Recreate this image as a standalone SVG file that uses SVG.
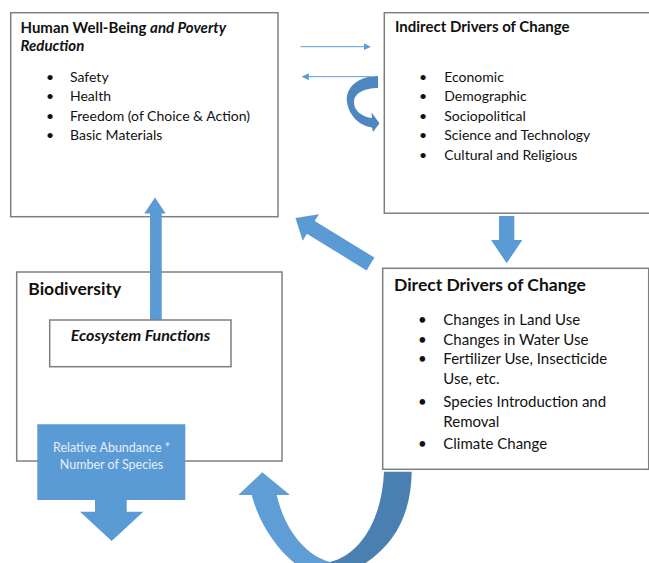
<svg xmlns="http://www.w3.org/2000/svg" width="649" height="563" viewBox="0 0 649 563">
  <style>
    .box { fill: #ffffff; stroke: #7f7f7f; stroke-width: 1.5; }
    .t { font-family: Lato, "Noto Sans", "Liberation Sans", sans-serif; fill: #111111; }
    .item { font-size: 14px; }
    .item2 { font-size: 15px; }
    .title { font-size: 15px; font-weight: bold; }
    .big { font-size: 17.5px; font-weight: bold; }
    .bi { font-weight: bold; font-style: italic; }
    .arrow { fill: #5b9bd5; }
    .thin { stroke: #5b9bd5; stroke-width: 1; fill: none; }
    .light { fill: #e6eef8; font-size: 12.5px; }
  </style>
  <defs>
    <marker id="thinHead" viewBox="0 0 10 10" refX="9" refY="5" markerWidth="7" markerHeight="7" orient="auto-start-reverse" markerUnits="userSpaceOnUse">
      <path d="M0,0 L10,5 L0,10 Z" fill="#5b9bd5"/>
    </marker>
  </defs>
  <rect width="649" height="563" fill="#ffffff"/>

  <!-- Human well-being -->
  <g id="wellbeing">
    <rect class="box" x="10.7" y="12.7" width="267.3" height="204"/>
    <text class="t title" x="20.5" y="33">Human Well-Being <tspan font-style="italic">and Poverty</tspan></text>
    <text class="t title bi" x="20.5" y="51">Reduction</text>
    <g class="t item">
      <text x="46" y="82">•</text><text x="70" y="82">Safety</text>
      <text x="46" y="101">•</text><text x="70" y="101">Health</text>
      <text x="46" y="120.5">•</text><text x="70" y="120.5">Freedom (of Choice &amp; Action)</text>
      <text x="46" y="140">•</text><text x="70" y="140">Basic Materials</text>
    </g>
  </g>

  <!-- Indirect drivers -->
  <g id="indirect">
    <rect class="box" x="384.3" y="12.7" width="266" height="200.5"/>
    <text class="t title" x="395" y="31.7">Indirect Drivers of Change</text>
    <g class="t item">
      <text x="419" y="82">•</text><text x="444.3" y="82">Economic</text>
      <text x="419" y="101">•</text><text x="444.3" y="101">Demographic</text>
      <text x="419" y="120.5">•</text><text x="444.3" y="120.5">Sociopolitical</text>
      <text x="419" y="140">•</text><text x="444.3" y="140">Science and Technology</text>
      <text x="419" y="159.5">•</text><text x="444.3" y="159.5">Cultural and Religious</text>
    </g>
  </g>

  <!-- Biodiversity -->
  <g id="biodiversity">
    <rect class="box" x="16.7" y="272" width="265.3" height="189"/>
    <text class="t big" x="28.3" y="295">Biodiversity</text>
  </g>

  <!-- Direct drivers -->
  <g id="direct">
    <rect class="box" x="382.7" y="268.3" width="266" height="201"/>
    <text class="t big" x="394" y="291">Direct Drivers of Change</text>
    <g class="t item2">
      <text x="418" y="325">•</text><text x="443.3" y="325">Changes in Land Use</text>
      <text x="418" y="345">•</text><text x="443.3" y="345">Changes in Water Use</text>
      <text x="418" y="364">•</text><text x="443.3" y="364">Fertilizer Use, Insecticide</text>
      <text x="443.3" y="384">Use, etc.</text>
      <text x="418" y="407">•</text><text x="443.3" y="407">Species Introduction and</text>
      <text x="443.3" y="427">Removal</text>
      <text x="418" y="448.5">•</text><text x="443.3" y="448.5">Climate Change</text>
    </g>
  </g>

  <!-- Connectors -->
  <g id="connectors">
    <!-- thin exchange arrows between the top boxes -->
    <line class="thin" x1="300.5" y1="46.7" x2="370" y2="46.7" marker-end="url(#thinHead)"/>
    <line class="thin" x1="370" y1="76.7" x2="302.5" y2="76.7" marker-end="url(#thinHead)"/>

    <!-- small self-loop curved arrow on indirect drivers -->
    <path fill="#4e86bf" d="M378,76 C358,76 345,88 347,102 C349,116 360,126 372,127.5 L373,132 L379.5,123.3 L371.5,112.5 L372,118 C362,117 354,111 354,102 C354,93 365,88 378,88 Z"/>

    <!-- indirect -> direct -->
    <path class="arrow" d="M499,216 L514.3,216 L514.3,240 L522.3,240 L506.7,263.3 L491,240 L499,240 Z"/>

    <!-- direct -> human well-being -->
    <path class="arrow" transform="translate(370.5,264) rotate(211.5)" d="M0,-7.5 L70,-7.5 L70,-15.5 L88,0 L70,15.5 L70,7.5 L0,7.5 Z"/>

    <!-- ecosystem functions -> human well-being -->
    <path class="arrow" d="M150,320 L150,213.5 L144.3,213.5 L155,197.5 L165.7,213.5 L161.7,213.5 L161.7,320 Z"/>

    <!-- direct -> biodiversity U-turn -->
    <path fill="#5e9dd6" d="M262.3,472.3 L290,495 L276.7,495 C285,530 305,555 330,562 L330,580 C295,575 262,535 251.7,495 L238.3,495 Z"/>
    <path fill="#4a7fb2" d="M384,471.7 L411.7,471.7 C411,520 390,560 330,580 L330,562 C360,555 382,520 384,471.7 Z"/>
  </g>

  <!-- Ecosystem functions (inside biodiversity) -->
  <g id="ecosystem">
    <rect class="box" x="49.7" y="320" width="181.3" height="46.7"/>
    <text class="t bi" font-size="16" x="140.5" y="340.5" text-anchor="middle">Ecosystem Functions</text>
  </g>

  <!-- Relative abundance callout -->
  <g id="abundance">
    <path class="arrow" d="M37.3,424.3 L185.3,424.3 L185.3,500 L126.7,500 L126.7,511.7 L143.3,511.7 L111.7,541 L80,511.7 L95,511.7 L95,500 L37.3,500 Z"/>
    <text class="t light" x="111.5" y="452" text-anchor="middle">Relative Abundance *</text>
    <text class="t light" x="111.5" y="469" text-anchor="middle">Number of Species</text>
  </g>
</svg>
